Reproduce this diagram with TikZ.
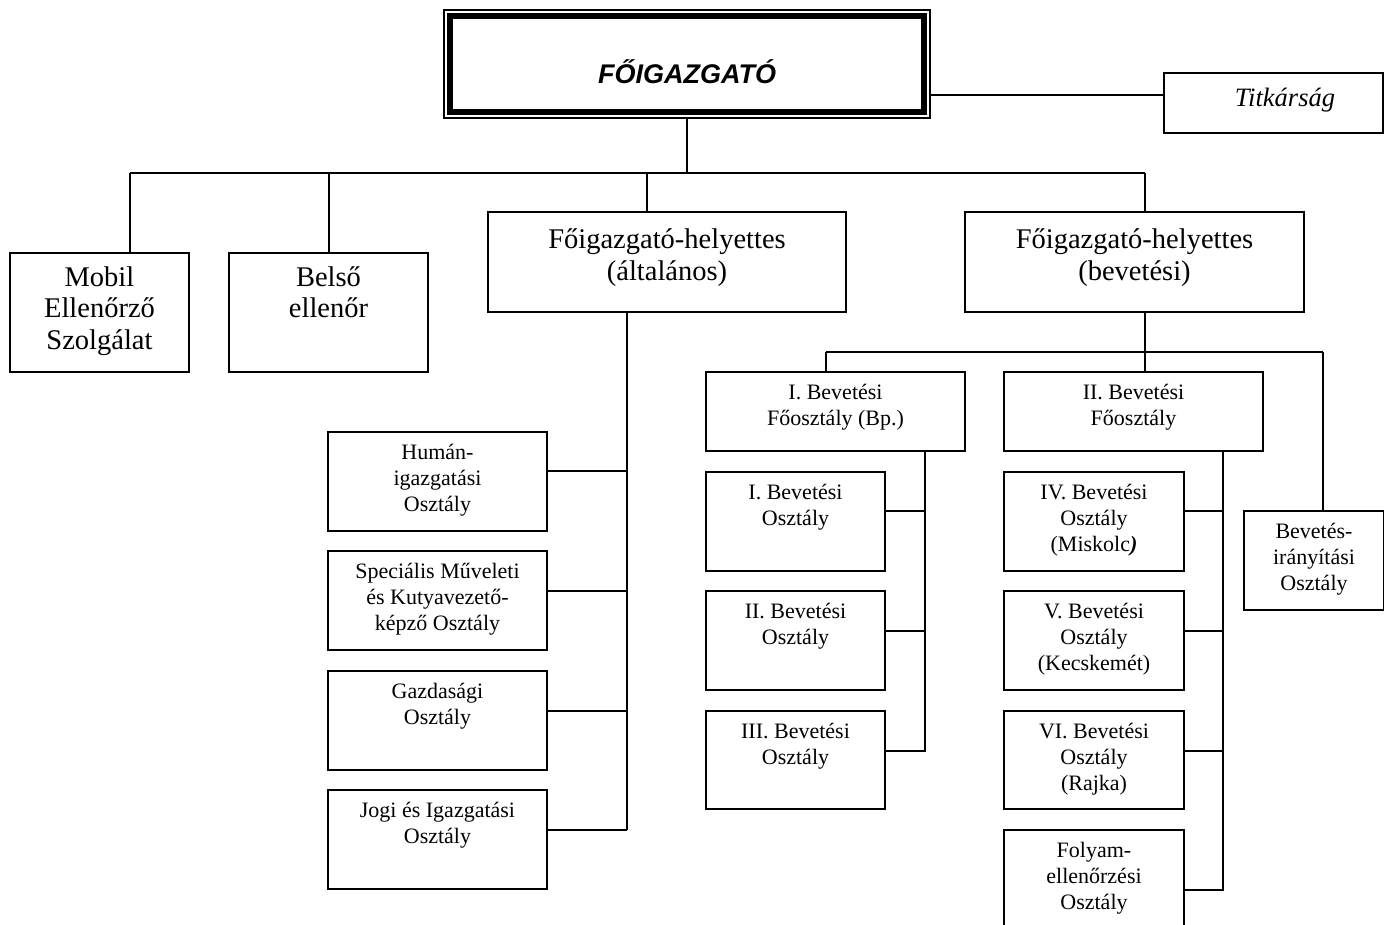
\documentclass[tikz,border=0pt]{standalone}
\usepackage{fontspec}
\setmainfont{Liberation Serif}
\newfontfamily\headfont{Liberation Sans}
\usetikzlibrary{calc}

\tikzset{
  box/.style={draw, line width=1.4pt, inner sep=0pt},
  wire/.style={line width=1.4pt},
  sm/.style={font=\fontsize{22}{26}\selectfont, align=center, inner sep=0pt, anchor=north, yshift=-13pt},
  lg/.style={font=\fontsize{28.5}{31.5}\selectfont, align=center, inner sep=0pt, anchor=north, yshift=-14pt},
  lgdeep/.style={lg, yshift=-3.5pt},
}

% \orgbox[text style]{name}{x1}{y1}{x2}{y2}{text}
\newcommand\orgbox[7][sm]{%
  \node[box, minimum width={(#5-#3)*1pt}, minimum height={(#6-#4)*1pt}] (#2) at ({(#3+#5)/2},{(#4+#6)/2}) {};
  \node[#1] (#2-t) at (#2.north) {#7};
}

\begin{document}
\begin{tikzpicture}[x=1pt, y=-1pt]
\useasboundingbox (0,0) rectangle (1384,925);

% director general: thin frame around a heavy frame
\node[draw, line width=1.5pt, inner sep=0pt, minimum width=486pt, minimum height=108pt] (topout) at (687,64) {};
\node[draw, line width=6pt, inner sep=0pt, minimum width=474pt, minimum height=96pt] (top) at (687,64) {};
\node[font=\headfont\fontsize{27}{32}\selectfont\bfseries\itshape, inner sep=0pt] (title) at (687,72) {FŐIGAZGATÓ};

% secretariat
\node[box, minimum width=219pt, minimum height=60pt] (titk) at (1273.5,103) {};
\node[font=\fontsize{26.5}{30}\selectfont\itshape, inner sep=0pt] (titk-t) at (1285,100) {Titkárság};
\coordinate (tj) at (930,95);
\draw[wire] (tj) -- (tj -| titk.west);

% first level
\orgbox[lg]{mobil}{10}{253}{189}{372}{Mobil\\Ellenőrző\\Szolgálat}
\orgbox[lg]{belso}{229}{253}{428}{372}{Belső\\ellenőr}
\orgbox[lgdeep]{fha}{488}{212}{846}{312}{Főigazgató-helyettes\\(általános)}
\orgbox[lgdeep]{fhb}{965}{212}{1304}{312}{Főigazgató-helyettes\\(bevetési)}

\coordinate (d1) at (130,173);
\coordinate (d2) at (329,173);
\coordinate (d3) at (647,173);
\coordinate (d4) at (1145,173);
\draw[wire] (topout.south) -- (topout.south |- d1);
\draw[wire] (d1) -- (d4);
\draw[wire] (d1) -- (d1 |- mobil.north);
\draw[wire] (d2) -- (d2 |- belso.north);
\draw[wire] (d3) -- (d3 |- fha.north);
\draw[wire] (d4) -- (d4 |- fhb.north);

% general deputy: departments
\orgbox{human}{328}{432}{547}{531}{Humán-\\igazgatási\\Osztály}
\orgbox{spec}{328}{551}{547}{650}{Speciális Műveleti\\és Kutyavezető-\\képző Osztály}
\orgbox{gazd}{328}{671}{547}{770}{Gazdasági\\Osztály}
\orgbox{jogi}{328}{790}{547}{889}{Jogi és Igazgatási\\Osztály}

\coordinate (va) at (627,0);
\coordinate (ha1) at (0,471);
\coordinate (ha2) at (0,591);
\coordinate (ha3) at (0,711);
\coordinate (ha4) at (0,830);
\draw[wire] (fha.south -| va) -- (va |- ha4);
\draw[wire] (va |- ha1) -- (human.east |- ha1);
\draw[wire] (va |- ha2) -- (spec.east |- ha2);
\draw[wire] (va |- ha3) -- (gazd.east |- ha3);
\draw[wire] (va |- ha4) -- (jogi.east |- ha4);

% operational deputy: bus to main departments
\coordinate (hb) at (0,352);
\coordinate (e1) at (826,352);
\coordinate (e3) at (1323,352);
\draw[wire] (fhb.south -| d4) -- (d4 |- hb);
\draw[wire] (e1) -- (e3);

\orgbox{fo1}{706}{372}{965}{451}{I. Bevetési\\Főosztály (Bp.)}
\orgbox{fo2}{1004}{372}{1263}{451}{II. Bevetési\\Főosztály}
\orgbox{iranyit}{1244}{511}{1384}{610}{Bevetés-\\irányítási\\Osztály}
\draw[wire] (e1) -- (e1 |- fo1.north);
\draw[wire] (d4 |- hb) -- (d4 |- fo2.north);
\draw[wire] (e3) -- (e3 |- iranyit.north);

% first main department
\orgbox{o1}{706}{472}{885}{571}{I. Bevetési\\Osztály}
\orgbox{o2}{706}{591}{885}{690}{II. Bevetési\\Osztály}
\orgbox{o3}{706}{711}{885}{809}{III. Bevetési\\Osztály}
\coordinate (vb) at (925,0);
\coordinate (hr1) at (0,511);
\coordinate (hr2) at (0,631);
\coordinate (hr3) at (0,751);
\coordinate (hr4) at (0,890);
\draw[wire] (fo1.south -| vb) -- (vb |- hr3) -- (o3.east |- hr3);
\draw[wire] (vb |- hr1) -- (o1.east |- hr1);
\draw[wire] (vb |- hr2) -- (o2.east |- hr2);

% second main department
\orgbox{o4}{1004}{472}{1184}{571}{IV. Bevetési\\Osztály\\(Miskolc\textit{\bfseries)}}
\orgbox{o5}{1004}{591}{1184}{690}{V. Bevetési\\Osztály\\(Kecskemét)}
\orgbox{o6}{1004}{711}{1184}{809}{VI. Bevetési\\Osztály\\(Rajka)}
\orgbox{o7}{1004}{830}{1184}{940}{Folyam-\\ellenőrzési\\Osztály}
\coordinate (vc) at (1223,0);
\draw[wire] (fo2.south -| vc) -- (vc |- hr4) -- (o7.east |- hr4);
\draw[wire] (vc |- hr1) -- (o4.east |- hr1);
\draw[wire] (vc |- hr2) -- (o5.east |- hr2);
\draw[wire] (vc |- hr3) -- (o6.east |- hr3);

\end{tikzpicture}
\end{document}
